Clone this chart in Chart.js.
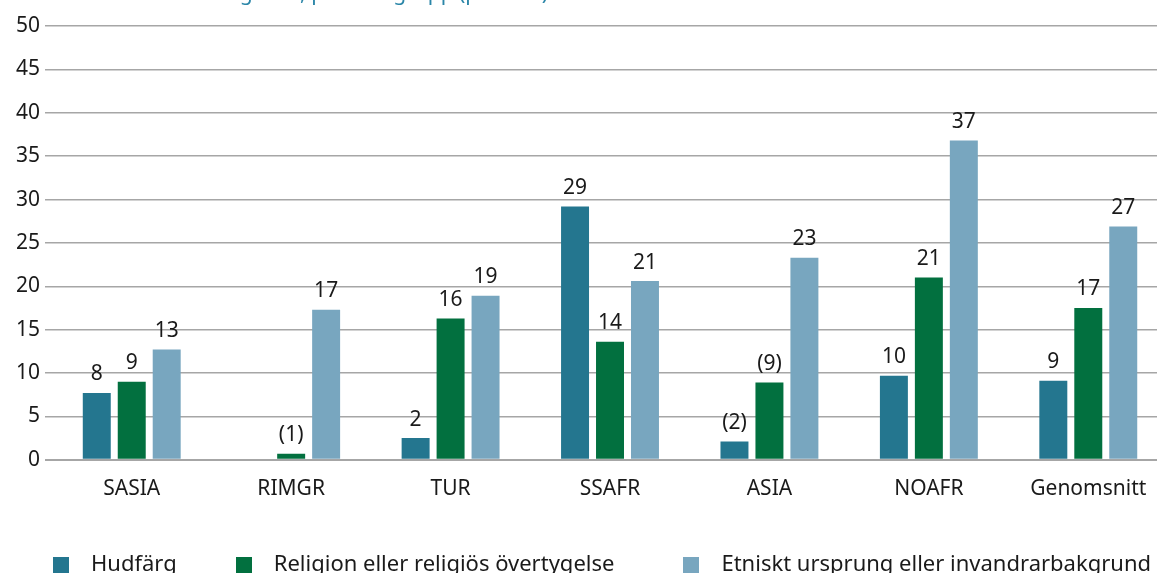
<!DOCTYPE html>
<html>
<head>
<meta charset="utf-8">
<script src="https://cdn.jsdelivr.net/npm/chart.js@4"></script>
<style>
  html, body { margin: 0; padding: 0; background: #fff; overflow: hidden; }
  #wrap { position: relative; width: 1172px; height: 573px; }
  #legend {
    position: absolute; left: 53px; top: 547px; display: flex; align-items: center;
    font-family: "Noto Sans", sans-serif; font-size: 22px; color: #1a1a1a; white-space: nowrap;
  }
  #legend .item { display: flex; align-items: center; margin-right: 59px; }
  #legend .item:nth-child(2) { margin-right: 69px; }
  #legend .box { width: 16px; height: 16px; margin-right: 22px; margin-top: 5px; }
</style>
</head>
<body>
<div id="wrap">
  <canvas id="chart" width="1172" height="573"></canvas>
  <div id="legend"></div>
</div>
<script>
// *** data ***
var categories = ['SASIA', 'RIMGR', 'TUR', 'SSAFR', 'ASIA', 'NOAFR', 'Genomsnitt'];
var seriesNames = ['Hudfärg', 'Religion eller religiös övertygelse', 'Etniskt ursprung eller invandrarbakgrund'];

var hudfarg   = [7.7, null, 2.5, 29.2, 2.1, 9.7, 9.1];
var religion  = [9.0, 0.7, 16.3, 13.6, 8.9, 21.0, 17.5];
var etniskt   = [12.7, 17.3, 18.9, 20.6, 23.3, 36.8, 26.9];

// etiketter som i originalet (parentes = osäker skattning)
var hudfargLabels  = ['8', '', '2', '29', '(2)', '10', '9'];
var religionLabels = ['9', '(1)', '16', '14', '(9)', '21', '17'];
var etnisktLabels  = ['13', '17', '19', '21', '23', '37', '27'];

var yTicks = [0, 5, 10, 15, 20, 25, 30, 35, 40, 45, 50];
var titleText = 'invandrarbakgrund, per landgrupp (procent)';

var colors = ['#24768f', '#02703f', '#78a6bf'];
var allLabels = [hudfargLabels, religionLabels, etnisktLabels];
var FONT = '"Noto Sans", sans-serif';

// Etiketter ovanför staplarna
var barLabels = {
    id: 'barLabels',
    afterDatasetsDraw(chart) {
        var ctx = chart.ctx;
        ctx.save();
        ctx.font = '21px ' + FONT;
        ctx.fillStyle = '#1a1a1a';
        ctx.textAlign = 'center';
        ctx.textBaseline = 'bottom';
        chart.data.datasets.forEach(function (ds, i) {
            var meta = chart.getDatasetMeta(i);
            meta.data.forEach(function (bar, j) {
                var txt = allLabels[i][j];
                if (!txt || ds.data[j] == null) return;
                ctx.fillText(txt, bar.x, bar.y - 8);
            });
        });
        ctx.restore();
    }
};

// Titeln är avskuren i bildens överkant, bara nedre delen syns
var cutTitle = {
    id: 'cutTitle',
    afterDraw(chart) {
        var ctx = chart.ctx;
        ctx.save();
        ctx.font = '21px ' + FONT;
        ctx.fillStyle = '#2b86a8';
        ctx.textAlign = 'right';
        ctx.textBaseline = 'alphabetic';
        ctx.fillText(titleText, 548, 0);
        ctx.restore();
    }
};

var ctx = document.getElementById('chart').getContext('2d');
var chart = new Chart(ctx, {
    type: 'bar',
    data: {
        labels: categories,
        datasets: [
            { label: seriesNames[0], data: hudfarg,  backgroundColor: colors[0] },
            { label: seriesNames[1], data: religion, backgroundColor: colors[1] },
            { label: seriesNames[2], data: etniskt,  backgroundColor: colors[2] }
        ]
    },
    options: {
        responsive: false,
        animation: false,
        categoryPercentage: 0.658,
        barPercentage: 0.8,
        layout: { padding: { left: 11, right: 4, top: 26, bottom: 54 } },
        plugins: {
            legend: { display: false },
            tooltip: { enabled: false }
        },
        scales: {
            x: {
                grid: { display: false, drawTicks: false },
                border: { display: false },
                ticks: { font: { family: FONT, size: 21 }, color: '#1a1a1a', padding: 17 }
            },
            y: {
                min: 0,
                max: 50,
                afterBuildTicks: function (scale) {
                    scale.ticks = yTicks.map(function (v) { return { value: v }; });
                },
                grid: {
                    color: '#a6a6a6',
                    lineWidth: function (c) { return c.tick && c.tick.value === 0 ? 2 : 1.5; },
                    drawTicks: true,
                    tickLength: 7
                },
                border: { display: false },
                ticks: { font: { family: FONT, size: 21 }, color: '#1a1a1a', padding: 5 }
            }
        }
    },
    plugins: [barLabels, cutTitle]
});

// Förklaring under diagrammet
var legend = document.getElementById('legend');
chart.data.datasets.forEach(function (ds) {
    var item = document.createElement('div');
    item.className = 'item';
    var box = document.createElement('span');
    box.className = 'box';
    box.style.background = ds.backgroundColor;
    var txt = document.createElement('span');
    txt.textContent = ds.label;
    item.appendChild(box);
    item.appendChild(txt);
    legend.appendChild(item);
});
</script>
</body>
</html>
